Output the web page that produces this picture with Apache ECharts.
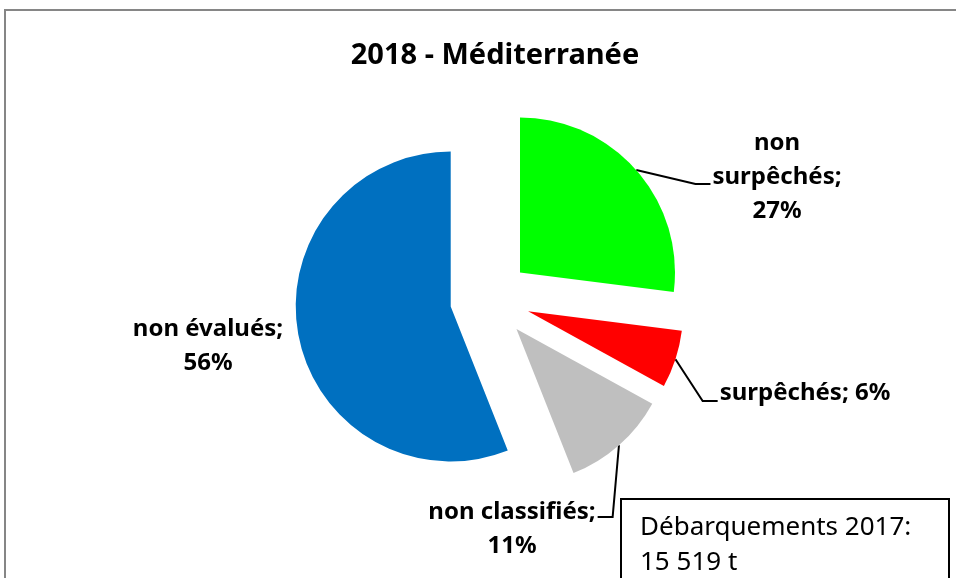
<!DOCTYPE html>
<html>
<head>
<meta charset="utf-8">
<script src="https://cdn.jsdelivr.net/npm/echarts@6/dist/echarts.min.js"></script>
<style>
html, body { margin: 0; padding: 0; background: #fff; }
#main { width: 956px; height: 578px; }
</style>
</head>
<body>
<div id="main"></div>
<script>
// donnees du graphique
var titre = '2018 - Méditerranée';
var categories = ['non\nsurpêchés', 'surpêchés', 'non classifiés', 'non évalués'];
var separateurs = ['\n', ' ', '\n', '\n'];
var valeurs = [27, 6, 11, 56];
var couleurs = ['#00FF00', '#FF0000', '#BFBFBF', '#0070C0'];
var encadre = ['Débarquements 2017:', '15 519 t'];

// mise en page des etiquettes : centre du texte, cote du trait, decalage vertical du trait
var posEtiquettes = [[777, 177], [805, 393], [512, 529], [208, 346]];
var coteTrait = ['left', 'left', 'right', null];
var decalTrait = [7, 8, -12, 0];

var centre = [490, 299];
var rayon = 155;
var eclatement = 40;

var chart = echarts.init(document.getElementById('main'));

var total = 0;
for (var i = 0; i < valeurs.length; i++) total += valeurs[i];

// une serie par part pour pouvoir l'ecarter du centre
var series = [];
var cumul = 0;
for (var i = 0; i < valeurs.length; i++) {
	var angle = (cumul + valeurs[i] / 2) / total * 2 * Math.PI;
	cumul += valeurs[i];
	var donnees = [];
	for (var j = 0; j < valeurs.length; j++) {
		var visible = (i == j);
		donnees.push({
			name : categories[j],
			value : valeurs[j],
			itemStyle : { color : visible ? couleurs[j] : 'rgba(0,0,0,0)' },
			label : { show : visible },
			labelLine : { show : visible && coteTrait[j] != null }
		});
	}
	series.push({
		type : 'pie',
		center : [centre[0] + eclatement * Math.sin(angle), centre[1] - eclatement * Math.cos(angle)],
		radius : rayon,
		startAngle : 90,
		clockwise : true,
		silent : true,
		emphasis : { disabled : true },
		label : {
			position : 'outside',
			fontFamily : 'Noto Sans',
			fontSize : 24,
			fontWeight : 'bold',
			lineHeight : 34,
			color : '#000',
			align : 'center',
			formatter : function(p) {
				return p.name + ';' + separateurs[p.dataIndex] + p.value + '%';
			}
		},
		labelLine : {
			length : 10,
			length2 : 15,
			lineStyle : { color : '#000', width : 2 }
		},
		labelLayout : function(p) {
			var k = p.dataIndex;
			var pos = posEtiquettes[k];
			var res = {
				x : pos[0],
				y : pos[1],
				align : 'center',
				verticalAlign : 'middle'
			};
			if (coteTrait[k] && p.labelLinePoints) {
				var demi = p.labelRect.width / 2;
				var yt = pos[1] + decalTrait[k];
				var bord, coude;
				if (coteTrait[k] == 'left') {
					bord = pos[0] - demi - 2;
					coude = bord - 15;
				} else {
					bord = pos[0] + demi + 2;
					coude = bord + 15;
				}
				res.labelLinePoints = [p.labelLinePoints[0], [coude, yt], [bord, yt]];
			}
			return res;
		},
		data : donnees
	});
}

var option = {
	animation : false,
	title : {
		text : titre,
		left : 490,
		top : 36,
		textAlign : 'center',
		textStyle : {
			fontFamily : 'Noto Sans',
			fontSize : 29,
			fontWeight : 'bold',
			color : '#000'
		}
	},
	graphic : [
		{
			type : 'rect',
			shape : { x : 5, y : 10, width : 1000, height : 700 },
			style : { fill : 'none', stroke : '#868686', lineWidth : 2 },
			silent : true
		},
		{
			type : 'rect',
			shape : { x : 621, y : 499, width : 328, height : 200 },
			style : { fill : '#fff', stroke : '#000', lineWidth : 2 },
			z : 10,
			silent : true
		},
		{
			type : 'text',
			left : 640,
			top : 510,
			z : 11,
			style : {
				text : encadre.join('\n'),
				fontFamily : 'Noto Sans',
				fontSize : 26,
				lineHeight : 35,
				fill : '#000'
			}
		}
	],
	series : series
};

chart.setOption(option);
</script>
</body>
</html>
